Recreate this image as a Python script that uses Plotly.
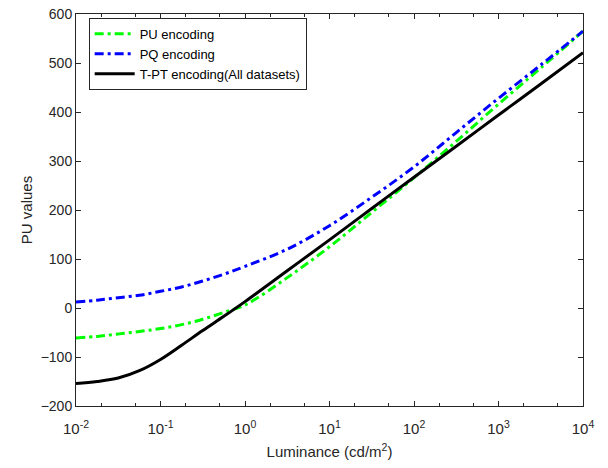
import plotly.graph_objects as go

# luminance sample points (cd/m^2)
luminance = [0.01, 0.0178, 0.0316, 0.0562, 0.1, 0.178, 0.316, 0.562, 1,
             3.16, 10, 31.6, 100, 316, 1000, 3162, 10000]

pu_encoding = [-61, -58, -53, -48, -42, -34, -23, -9, 6,
               62, 125, 195, 266, 340, 416, 490, 565]
pq_encoding = [12, 16, 21, 26, 34, 43, 55, 69, 85,
               120, 168, 226, 288, 358, 428, 496, 565]
tpt_encoding = [-154, -150, -143, -128, -105, -76, -46, -17, 13,
                76, 139, 203, 267, 330, 394, 457, 521]

x_tickvals = [0.01, 0.1, 1, 10, 100, 1000, 10000]
x_ticktext = ['10<sup>-2</sup>', '10<sup>-1</sup>', '10<sup>0</sup>', '10<sup>1</sup>',
              '10<sup>2</sup>', '10<sup>3</sup>', '10<sup>4</sup>']
y_tickvals = [-200, -100, 0, 100, 200, 300, 400, 500, 600]

dashdot = '9px,4px,3px,4px'

fig = go.Figure()
fig.add_trace(go.Scatter(x=luminance, y=pu_encoding, mode='lines', name='PU encoding',
                         line=dict(color='#00ff00', width=3, dash=dashdot, shape='spline')))
fig.add_trace(go.Scatter(x=luminance, y=pq_encoding, mode='lines', name='PQ encoding',
                         line=dict(color='#0000ff', width=3, dash=dashdot, shape='spline')))
fig.add_trace(go.Scatter(x=luminance, y=tpt_encoding, mode='lines', name='T-PT encoding(All datasets)',
                         line=dict(color='black', width=3, shape='spline')))

axis_color = '#262626'
# page body has an 8px margin, so the figure is 8px smaller and margins shifted
fig.update_layout(
    width=600, height=460,
    margin=dict(l=68, r=25, t=6, b=62, autoexpand=False),
    paper_bgcolor='white', plot_bgcolor='white',
    font=dict(family='Liberation Sans, Arial, sans-serif', size=14, color=axis_color),
    showlegend=True,
    legend=dict(x=0.025, y=0.99, xanchor='left', yanchor='top',
                bgcolor='white', bordercolor=axis_color, borderwidth=1,
                font=dict(size=13, color='black'), tracegroupgap=0, itemwidth=40),
)
fig.update_xaxes(
    type='log', range=[-2, 4], automargin=False,
    tickvals=x_tickvals, ticktext=x_ticktext, ticklabelstandoff=9,
    ticklabeloverflow='allow',
    ticks='inside', ticklen=5, tickcolor=axis_color,
    minor=dict(ticks='inside', ticklen=3, tickcolor=axis_color, showgrid=False),
    showline=True, linecolor=axis_color, linewidth=1, mirror='ticks',
    showgrid=False, zeroline=False,
    title=dict(text='Luminance (cd/m<sup>2</sup>)', font=dict(size=15), standoff=10),
    tickfont=dict(size=15),
)
fig.update_yaxes(
    range=[-200, 600], tickvals=y_tickvals, automargin=False,
    ticklabeloverflow='allow',
    ticks='inside', ticklen=5, tickcolor=axis_color,
    showline=True, linecolor=axis_color, linewidth=1, mirror='ticks',
    showgrid=False, zeroline=False,
    title=dict(text='PU values', font=dict(size=15), standoff=4),
    tickfont=dict(size=14),
)

fig.write_html("out.html")
